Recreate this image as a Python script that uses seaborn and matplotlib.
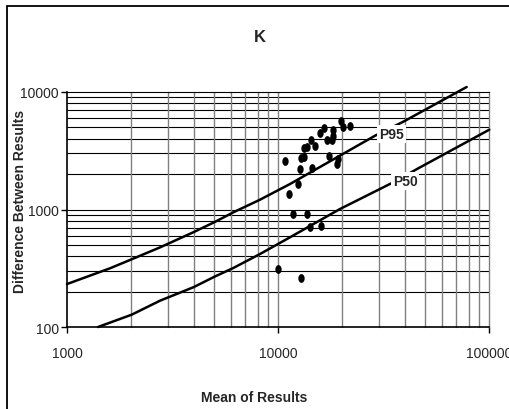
import numpy as np
import pandas as pd
import matplotlib
matplotlib.use("Agg")
import matplotlib.pyplot as plt
from matplotlib.patches import Rectangle
from matplotlib.ticker import FixedLocator, NullLocator, NullFormatter
import seaborn as sns

# Paired results: mean of the two results vs. their difference
mean_results = [9970, 12810, 10800, 11310, 11740, 13680, 14180, 15940, 12480,
                12715, 12850, 13320, 13320, 13770, 14290, 14980, 14440, 15810,
                16580, 17020, 18290, 18290, 18090, 17500, 18980, 19310, 19830,
                20400, 21940]
diff_results = [312, 261, 2570, 1355, 915, 915, 705, 719, 1648,
                2212, 2728, 2814, 3318, 3383, 3904, 3491, 2242, 4451,
                4938, 3904, 4776, 4246, 3904, 2870, 2440, 2690, 5697,
                5006, 5105]

# 95th percentile limit curve
p95_x = [1000, 1599, 1990, 2760, 3968, 5044, 6140, 8217, 11400, 28830, 39260, 78380]
p95_y = [232, 316, 372, 476, 640, 787, 946, 1212, 1648, 4246, 5589, 11030]

# 50th percentile curve
p50_x = [1403, 2026, 2760, 3968, 5044, 6140, 8217, 11400, 19670, 35190, 46240, 100300]
p50_y = [100, 127.3, 167.5, 217.7, 270, 317.8, 418, 580, 1010, 1704, 2242, 4777]

title_text = "K"
x_label = "Mean of Results"
y_label = "Difference Between Results"
x_ticks = [1000, 10000, 100000]
y_ticks = [100, 1000, 10000]

sns.set_style("white")
plt.rcParams["font.family"] = ["Liberation Sans", "DejaVu Sans"]
narrow = ["Liberation Sans Narrow", "Liberation Sans", "DejaVu Sans"]

W, H = 509, 410
fig = plt.figure(figsize=(W / 100, H / 100), dpi=100)
ax = fig.add_axes([67 / W, 1 - 328 / H, (489 - 67) / W, (328 - 93) / H])
ax.set_xscale("log")
ax.set_yscale("log")
ax.set_xlim(1000, 100000)
ax.set_ylim(100, 10000)

# log grid: horizontal lines black, vertical lines grey
for dec in (100, 1000):
    for m in range(1, 10):
        v = dec * m
        if 100 < v < 10000:
            ax.axhline(v, color="black", lw=0.8, zorder=1)
for dec in (1000, 10000):
    for m in range(1, 10):
        v = dec * m
        if 1000 < v < 100000:
            ax.axvline(v, color="#808080", lw=1.0, zorder=1)

p95 = pd.DataFrame({"x": p95_x, "y": p95_y})
p50 = pd.DataFrame({"x": p50_x, "y": p50_y})
pts = pd.DataFrame({"x": mean_results, "y": diff_results})

sns.lineplot(data=p95, x="x", y="y", sort=False, color="black", lw=1.8,
             ax=ax, zorder=3)
sns.lineplot(data=p50, x="x", y="y", sort=False, color="black", lw=1.8,
             ax=ax, zorder=3)
for ln in ax.get_lines():
    ln.set_clip_on(False)

# slightly tall elliptical dot
t = np.linspace(0, 2 * np.pi, 30)
ell = list(zip(0.72 * np.cos(t), np.sin(t)))
sns.scatterplot(data=pts, x="x", y="y", marker=ell, s=40, color="black",
                edgecolor="black", linewidth=0, ax=ax, zorder=4)

lab_kw = dict(fontsize=10, fontweight="bold", family=narrow, ha="center",
              va="center", zorder=5,
              bbox=dict(facecolor="white", edgecolor="none", pad=1.5))
ax.text(34600, 4392, "P95", **lab_kw)
ax.text(40000, 1758, "P50", **lab_kw)

for side in ("left", "bottom"):
    ax.spines[side].set_color("black")
    ax.spines[side].set_linewidth(1.2)
ax.spines["top"].set_color("black")
ax.spines["top"].set_linewidth(0.8)
ax.spines["right"].set_color("#808080")
ax.spines["right"].set_linewidth(1.0)

ax.xaxis.set_major_locator(FixedLocator(x_ticks))
ax.yaxis.set_major_locator(FixedLocator(y_ticks))
ax.xaxis.set_minor_locator(NullLocator())
ax.yaxis.set_minor_locator(NullLocator())
ax.xaxis.set_minor_formatter(NullFormatter())
ax.yaxis.set_minor_formatter(NullFormatter())
ax.set_xticklabels([str(v) for v in x_ticks], family=narrow, fontsize=10)
ax.set_yticklabels([str(v) for v in y_ticks], family=narrow, fontsize=10)
ax.tick_params(axis="both", which="major", direction="out", length=4,
               width=1, color="black", bottom=True, left=True)
ax.tick_params(axis="x", pad=10)
ax.tick_params(axis="y", pad=2)

ax.set_xlabel(x_label, fontsize=10, fontweight="bold", family=narrow)
ax.xaxis.set_label_coords((254 - 67) / 422, (328 - 398) / 235)
ax.xaxis.label.set_va("center")
ax.set_ylabel(y_label, fontsize=10, fontweight="bold")
ax.yaxis.set_label_coords((20 - 67) / 422, (328 - 201) / 235)
ax.yaxis.label.set_va("center")

fig.text(260 / W, 1 - 37 / H, title_text, fontsize=12, fontweight="bold",
         ha="center", va="center")

# outer chart frame
fig.patches.append(Rectangle((7 / W, -0.05), 1.2, 1.05 - 7 / H,
                             transform=fig.transFigure, fill=False,
                             edgecolor="black", lw=1.3))

fig.savefig("out.png", dpi=100)
